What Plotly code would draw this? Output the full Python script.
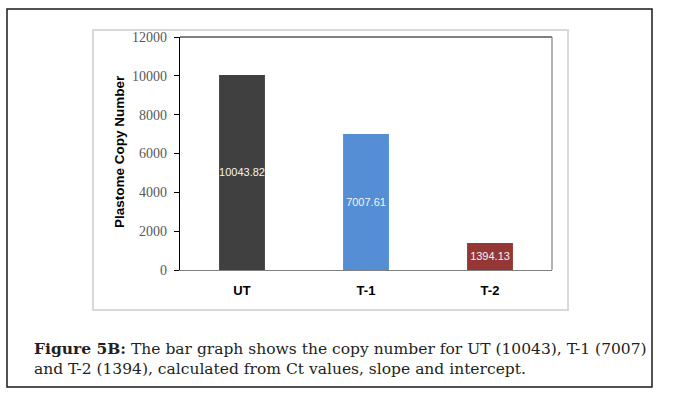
import plotly.graph_objects as go

categories = ["UT", "T-1", "T-2"]
copy_numbers = [10043.82, 7007.61, 1394.13]
value_labels = ["10043.82", "7007.61", "1394.13"]
bar_colors = ["#404040", "#558ed5", "#953735"]
y_ticks = [0, 2000, 4000, 6000, 8000, 10000, 12000]
y_tick_labels = ["0", "2000", "4000", "6000", "8000", "10000", "12000"]

W, H = 693, 399
PL, PR, PT, PB = 180, 552, 37, 270  # plot area in pixels


def px(x):
    return (x - PL) / (PR - PL)


def py(y):
    return (PB - y) / (PB - PT)


fig = go.Figure()
fig.add_trace(go.Bar(
    x=categories,
    y=copy_numbers,
    marker=dict(color=bar_colors, line=dict(width=0)),
    width=0.37,
    text=value_labels,
    textposition="inside",
    insidetextanchor="middle",
    constraintext="none",
    textangle=0,
    textfont=dict(family="Liberation Sans", size=11, color="#f4f4f4"),
    cliponaxis=False,
    hoverinfo="skip",
))

shapes = [
    dict(type="rect", xref="paper", yref="paper",
         x0=px(7), x1=px(652), y0=py(387), y1=py(9),
         line=dict(color="#1a1a1a", width=1.5), layer="below"),
    dict(type="rect", xref="paper", yref="paper",
         x0=px(93), x1=px(568), y0=py(310), y1=py(30),
         line=dict(color="#d9d9d9", width=2), layer="below"),
    dict(type="line", xref="paper", yref="paper", x0=0, x1=1, y0=1, y1=1,
         line=dict(color="#000000", width=1.2)),
    dict(type="line", xref="paper", yref="paper", x0=1, x1=1, y0=0, y1=1,
         line=dict(color="#808080", width=1.2)),
]

annotations = [
    dict(text="<b>Plastome Copy Number</b>", xref="paper", yref="paper",
         x=px(119), y=py(152), textangle=-90, showarrow=False,
         font=dict(family="Liberation Sans", size=13.5, color="#000000"),
         xanchor="center", yanchor="middle"),
    dict(text="<b>Figure 5B:</b> The bar graph shows the copy number for UT (10043), T-1 (7007)"
              "<br>and T-2 (1394), calculated from Ct values, slope and intercept.",
         xref="paper", yref="paper", x=px(32), y=py(337), showarrow=False,
         xanchor="left", yanchor="top", align="left",
         font=dict(family="DejaVu Serif", size=15.5, color="#231f20")),
]

fig.update_layout(
    width=W, height=H,
    margin=dict(l=PL, r=W - PR, t=PT, b=H - PB, pad=0),
    paper_bgcolor="white", plot_bgcolor="white",
    showlegend=False,
    shapes=shapes,
    annotations=annotations,
    xaxis=dict(
        showline=True, linecolor="#808080", linewidth=1.2,
        showgrid=False, ticks="", zeroline=False,
        tickfont=dict(family="Liberation Sans", size=13, color="#000000", weight="bold"),
        ticklabelstandoff=8,
    ),
    yaxis=dict(
        range=[0, 12000], tickvals=y_ticks, ticktext=y_tick_labels,
        showline=True, linecolor="#000000", linewidth=1.2,
        ticks="outside", ticklen=5, tickcolor="#000000", tickwidth=1,
        showgrid=False, zeroline=False,
        tickfont=dict(family="Liberation Serif", size=14, color="#595959"),
        ticklabelstandoff=4,
    ),
)

fig.write_html("out.html", config={"displayModeBar": False},
               post_script="document.body.style.margin='0px';")
